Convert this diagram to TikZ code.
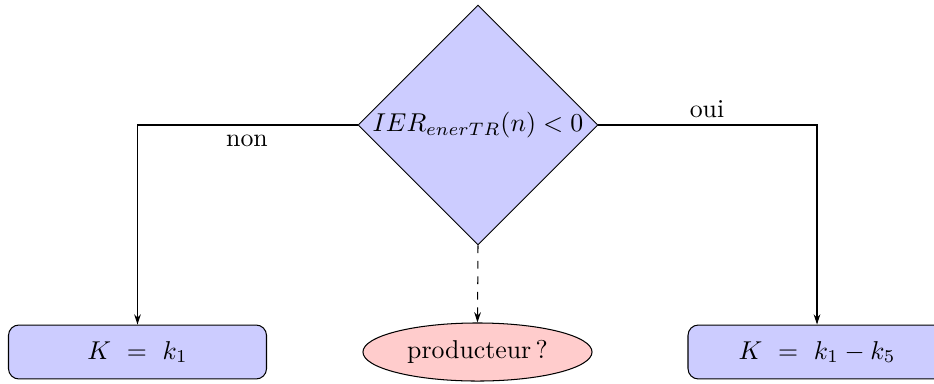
\documentclass[tikz,border=0pt]{standalone}
\usetikzlibrary{shapes.geometric,arrows.meta}
\begin{document}
\begin{tikzpicture}[x=0.3876pt,y=-0.3876pt,
  decision/.style={diamond,draw,fill=blue!20,minimum width=93pt,minimum height=93pt,inner sep=0pt},
  result/.style={rectangle,draw,fill=blue!20,rounded corners=4pt,minimum width=100pt,minimum height=20.9pt},
  guess/.style={ellipse,draw,fill=red!20,minimum width=88.8pt,minimum height=22.5pt},
  flow/.style={-{Stealth[length=4pt,width=2.6pt]}},
  lbl/.style={anchor=base,inner sep=0pt}]
\clip (0,0) rectangle (934,383);
\node[decision] (dec) at (478,125) {$IER_{enerTR}(n) < 0$};
\node[result] (left) at (137.5,352) {$K\ =\ k_1$};
\node[guess] (prod) at (477.5,352) {producteur\,?};
\node[result] (right) at (817,352) {$K\ =\ k_1 - k_5$};
\draw[flow] (dec.west) -| (left.north);
\draw[flow] (dec.east) -| (right.north);
\draw[flow,dashed] (dec.south) -- (prod.north);
\node[lbl] (non) at (247,146) {non};
\node[lbl] (oui) at (707,117) {oui};
\end{tikzpicture}
\end{document}
